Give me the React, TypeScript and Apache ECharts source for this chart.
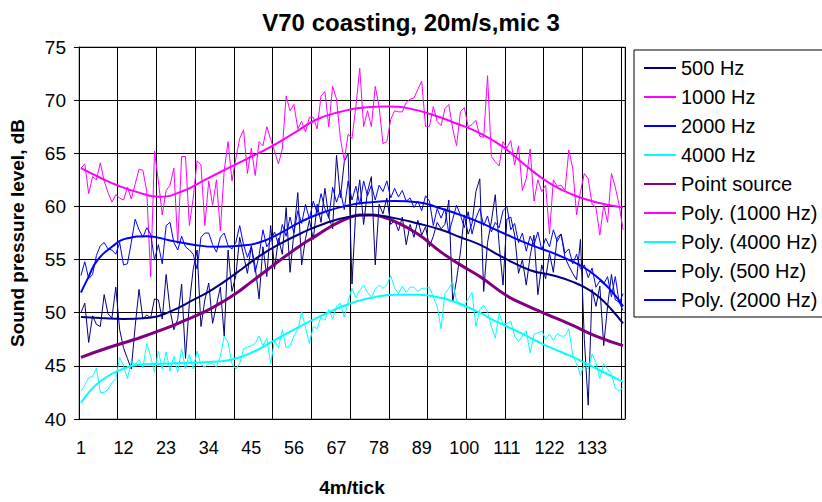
import { useEffect, useRef } from "react";
import * as echarts from "echarts";

// 141 measurement ticks along the pass-by (4 m per tick)
const categories: string[] = Array.from({ length: 141 }, (_, i) => String(i + 1));

const hz500 = [
  50.0, 50.9, 47.2, 49.7, 48.9, 48.7, 51.7, 49.9, 49.5, 52.4,
  48.4, 46.7, 45.7, 44.7, 48.7, 52.2, 49.4, 49.8, 49.5, 51.3,
  51.2, 49.4, 53.6, 50.3, 48.4, 49.4, 52.7, 45.7, 50.9, 54.1,
  55.9, 48.7, 51.2, 52.8, 49.0, 50.7, 52.4, 47.8, 55.9,
  52.0, 53.5, 57.1, 55.4, 53.7, 56.3, 54.3, 51.3, 56.2, 53.4,
  58.2, 54.1, 57.0, 55.5, 59.9, 53.8, 57.5, 61.3, 54.5, 57.0,
  58.7, 56.9, 60.2, 58.5, 61.7, 59.0, 57.9, 64.8, 60.8, 64.2,
  65.0, 52.7, 59.8, 62.5, 58.3, 61.4, 62.8, 54.5, 60.2, 59.3,
  60.8, 58.3, 58.7, 57.7, 59.0, 56.4, 58.3, 57.1, 58.7, 57.3,
  58.1, 56.2, 57.2, 58.5, 57.9, 58.3, 60.6, 51.0, 53.1, 55.7,
  59.2, 57.4, 58.4, 61.4, 62.6, 52.0, 56.6, 58.6, 61.1,
  56.4, 52.6, 58.8, 59.0, 57.3, 53.7, 55.0, 52.6, 55.3, 57.3,
  51.7, 54.5, 53.2, 55.6, 53.8, 57.1, 57.4, 55.2, 54.4, 53.7,
  53.1, 56.9, 47.5, 41.3, 52.2, 50.6, 52.5, 46.9, 50.6, 53.6,
  51.2, 51.0, 50.2,
];

const hz1000 = [
  63.6, 64.0, 61.2, 62.8, 62.5, 64.1, 62.4, 61.3, 60.4, 61.1,
  60.8, 60.6, 61.8, 60.7, 62.1, 63.5, 63.4, 61.4, 53.4, 65.2,
  62.4, 59.2, 61.5, 62.0, 63.6, 56.5, 64.7, 64.7, 58.2, 60.8,
  64.3, 63.9, 58.2, 62.4, 60.1, 62.5, 57.7, 63.4, 66.1,
  62.4, 64.5, 66.4, 67.2, 63.1, 65.5, 62.9, 66.1, 65.7, 67.5,
  66.3, 65.2, 64.0, 65.4, 70.4, 69.0, 69.6, 67.3, 68.0, 67.0,
  68.4, 68.4, 67.3, 70.4, 70.8, 67.5, 71.3, 70.1, 66.4, 64.3,
  66.8, 66.4, 69.4, 73.0, 67.5, 69.0, 67.5, 71.3, 69.4, 65.9,
  66.1, 68.2, 69.0, 68.9, 68.9, 69.8, 70.1, 70.2, 71.0, 71.8,
  67.5, 67.5, 69.4, 68.0, 67.6, 69.2, 69.6, 67.3, 65.7, 68.9,
  69.3, 67.5, 67.7, 68.1, 66.6, 66.5, 72.3, 64.7, 64.2,
  63.8, 66.1, 65.5, 66.2, 63.9, 65.7, 61.5, 62.6, 65.4, 60.5,
  62.5, 61.4, 62.0, 57.4, 62.5, 61.9, 62.0, 61.5, 65.3, 63.6,
  59.2, 61.4, 63.1, 62.6, 60.2, 59.9, 57.3, 60.1, 58.5, 63.1,
  61.8, 60.1, 57.8,
];

const hz2000 = [
  53.5, 54.8, 53.2, 53.6, 55.4, 56.3, 56.6, 56.0, 55.9, 55.5,
  56.6, 54.5, 54.6, 56.6, 58.8, 57.8, 57.1, 58.0, 57.4, 55.0,
  56.4, 54.6, 58.2, 58.5, 56.6, 55.9, 57.2, 56.2, 55.9, 55.5,
  54.1, 57.1, 57.5, 57.5, 56.4, 55.7, 57.1, 57.5, 56.3,
  56.0, 56.6, 58.2, 56.4, 55.2, 56.2, 53.8, 55.4, 57.8, 56.2,
  56.8, 57.6, 56.4, 58.3, 57.2, 59.0, 57.5, 59.6, 58.4, 60.2,
  58.8, 60.5, 59.4, 61.2, 59.8, 58.9, 61.8, 60.4, 61.5, 59.7,
  62.4, 60.6, 61.9, 60.2, 62.4, 61.0, 62.0, 60.6, 62.0, 61.4,
  62.4, 60.8, 61.7, 60.9, 61.5, 60.5, 60.8, 59.9, 60.5, 59.6,
  61.0, 60.5, 58.2, 59.8, 58.9, 59.8, 57.5, 58.8, 60.1, 59.2,
  58.0, 59.5, 57.4, 58.9, 59.8, 58.2, 59.1, 57.6, 58.5,
  58.0, 59.6, 60.0, 57.8, 58.4, 56.6, 57.5, 55.8, 57.2, 56.4,
  57.6, 55.9, 57.0, 56.2, 57.8, 56.7, 57.4, 55.6, 56.0, 54.6,
  55.5, 54.1, 54.5, 53.3, 54.2, 52.4, 53.0, 52.7, 53.4, 51.5,
  53.4, 50.9, 51.8,
];

const hz4000 = [
  42.6, 43.2, 43.9, 44.0, 44.8, 42.5, 42.5, 42.8, 43.4, 43.8,
  45.8, 45.0, 43.8, 45.4, 45.1, 45.6, 44.8, 47.1, 45.9, 44.4,
  46.4, 44.7, 46.3, 44.5, 45.9, 44.4, 46.6, 44.7, 46.1, 44.7,
  46.4, 45.1, 44.9, 45.2, 45.2, 44.9, 45.9, 47.8, 47.2,
  45.2, 44.7, 45.2, 46.6, 46.8, 46.9, 47.1, 47.8, 46.9, 47.6,
  45.2, 47.4, 46.7, 48.4, 46.7, 46.9, 47.8, 48.4, 50.1, 48.6,
  47.1, 48.7, 48.5, 49.6, 49.3, 50.3, 49.4, 50.6, 50.9, 49.6,
  51.1, 52.3, 51.4, 52.1, 52.6, 51.9, 51.5, 52.2, 52.6, 52.3,
  52.6, 53.5, 52.3, 51.8, 52.5, 51.9, 52.4, 52.4, 52.0, 52.3,
  52.3, 52.4, 51.5, 50.6, 48.5, 51.8, 52.3, 52.9, 51.1, 50.9,
  50.7, 51.3, 51.9, 48.7, 50.3, 50.7, 50.1, 48.7, 47.6,
  50.0, 48.9, 49.0, 49.2, 47.8, 47.3, 47.8, 48.3, 46.2, 48.0,
  48.1, 48.3, 47.5, 48.0, 47.4, 48.0, 47.8, 47.8, 48.5, 46.0,
  45.2, 44.1, 45.2, 44.7, 46.1, 45.3, 43.8, 45.2, 44.7, 44.2,
  42.9, 42.6, 43.0,
];

// Smooth curves: tick number and level at that tick
const pointSourceX = [1, 8, 15, 22, 28, 33, 37, 41, 45, 49, 53, 58, 62, 66, 70, 73, 76, 79, 82, 88, 94, 99, 104, 111, 116, 121, 128, 134, 141];
const pointSourceY = [45.8, 46.7, 47.5, 48.4, 49.3, 50.1, 50.9, 51.8, 52.9, 54.0, 55.1, 56.4, 57.3, 58.2, 58.9, 59.2, 59.2, 59.0, 58.6, 57.4, 55.7, 54.5, 53.4, 51.6, 50.7, 49.9, 48.8, 47.8, 46.9];

const poly1000X = [1, 6, 11, 16, 21, 27, 33, 39, 44, 50, 56, 62, 68, 74, 80, 86, 92, 98, 104, 110, 116, 122, 128, 134, 141];
const poly1000Y = [63.6, 62.7, 61.9, 61.3, 60.9, 61.4, 62.5, 63.6, 64.5, 65.6, 66.9, 68.2, 68.9, 69.3, 69.4, 69.2, 68.6, 67.8, 66.9, 65.6, 63.8, 62.2, 61.1, 60.4, 59.9];

const poly4000X = [1, 4, 7, 11, 16, 22, 29, 36, 41, 46, 50, 56, 63, 70, 76, 82, 88, 94, 99, 104, 108, 114, 120, 125, 130, 136, 141];
const poly4000Y = [41.5, 42.9, 43.8, 44.6, 45.1, 45.2, 45.3, 45.4, 45.7, 46.4, 47.2, 48.4, 49.7, 50.8, 51.4, 51.7, 51.7, 51.4, 50.8, 50.0, 49.2, 48.2, 47.1, 46.3, 45.5, 44.4, 43.5];

const poly500X = [1, 6, 12, 18, 24, 30, 35, 41, 47, 52, 58, 64, 70, 76, 82, 88, 94, 99, 104, 110, 117, 123, 128, 132, 135, 138, 141];
const poly500Y = [49.6, 49.5, 49.4, 49.5, 50.1, 51.2, 52.2, 53.7, 55.3, 56.4, 57.5, 58.4, 59.0, 59.2, 58.9, 58.4, 57.8, 57.1, 56.4, 55.2, 54.0, 53.5, 52.9, 52.2, 51.4, 50.3, 49.0];

const poly2000X = [1, 3, 5, 9, 13, 18, 24, 30, 36, 42, 47, 52, 58, 64, 70, 76, 82, 88, 94, 99, 104, 110, 117, 123, 128, 132, 136, 139, 141];
const poly2000Y = [51.9, 53.4, 54.8, 56.2, 57.0, 57.2, 56.8, 56.4, 56.2, 56.3, 56.6, 57.4, 58.6, 59.5, 60.1, 60.4, 60.5, 60.4, 59.8, 59.2, 58.5, 57.5, 56.4, 55.6, 54.8, 54.0, 52.8, 51.6, 50.6];

const legendOrder = [
  "500 Hz",
  "1000 Hz",
  "2000 Hz",
  "4000 Hz",
  "Point source",
  "Poly. (1000 Hz)",
  "Poly. (4000 Hz)",
  "Poly. (500 Hz)",
  "Poly. (2000 Hz)",
];

const FONT = "'Liberation Sans', Arial, sans-serif";

function measured(name: string, data: number[], color: string) {
  return {
    name,
    type: "line",
    data,
    symbol: "none",
    lineStyle: { width: 1, color },
    itemStyle: { color },
    z: 2,
  };
}

function curve(name: string, xs: number[], ys: number[], color: string, width: number) {
  return {
    name,
    type: "line",
    data: xs.map((x, i) => [x - 1, ys[i]]),
    smooth: 0.5,
    symbol: "none",
    lineStyle: { width, color },
    itemStyle: { color },
    z: 3,
  };
}

export default function App() {
  const ref = useRef<HTMLDivElement>(null);

  useEffect(() => {
    document.body.style.margin = "0";
    const chart = echarts.init(ref.current!, null, { renderer: "svg" });
    chart.setOption({
      animation: false,
      backgroundColor: "#ffffff",
      title: {
        text: "V70 coasting, 20m/s,mic 3",
        left: "center",
        top: 5,
        textStyle: { fontFamily: FONT, fontSize: 24, fontWeight: "bold", color: "#000" },
      },
      legend: {
        orient: "vertical",
        left: 634,
        top: 50,
        data: legendOrder,
        itemWidth: 32,
        itemHeight: 14,
        itemGap: 9,
        padding: [8, 30, 7, 9],
        borderColor: "#000",
        borderWidth: 1,
        itemStyle: { opacity: 0 },
        textStyle: { fontFamily: FONT, fontSize: 20, color: "#000" },
      },
      grid: {
        left: 79,
        right: 197,
        top: 47,
        bottom: 78,
        show: true,
        borderColor: "#808080",
        borderWidth: 1,
      },
      xAxis: {
        type: "category",
        data: categories,
        boundaryGap: true,
        name: "4m/tick",
        nameLocation: "middle",
        nameGap: 59,
        nameTextStyle: { fontFamily: FONT, fontSize: 19, fontWeight: "bold", color: "#000" },
        axisLine: { lineStyle: { color: "#000" } },
        axisTick: { interval: 9, length: 6, lineStyle: { color: "#000" } },
        axisLabel: { interval: 10, margin: 20, fontFamily: FONT, fontSize: 18, color: "#000" },
        splitLine: { show: true, interval: 9, lineStyle: { color: "#000" } },
      },
      yAxis: {
        type: "value",
        min: 40,
        max: 75,
        interval: 5,
        name: "Sound pressure level, dB",
        nameLocation: "middle",
        nameGap: 52,
        nameTextStyle: { fontFamily: FONT, fontSize: 19, fontWeight: "bold", color: "#000" },
        axisLine: { show: true, lineStyle: { color: "#000" } },
        axisTick: { show: true, length: 5, lineStyle: { color: "#000" } },
        axisLabel: { margin: 13, fontFamily: FONT, fontSize: 19, color: "#000" },
        splitLine: { show: true, lineStyle: { color: "#000" } },
      },
      series: [
        measured("500 Hz", hz500, "#000080"),
        measured("1000 Hz", hz1000, "#ff00ff"),
        measured("2000 Hz", hz2000, "#0000ff"),
        measured("4000 Hz", hz4000, "#00ffff"),
        curve("Point source", pointSourceX, pointSourceY, "#800080", 3),
        curve("Poly. (1000 Hz)", poly1000X, poly1000Y, "#ff00ff", 2),
        curve("Poly. (4000 Hz)", poly4000X, poly4000Y, "#00ffff", 2),
        curve("Poly. (500 Hz)", poly500X, poly500Y, "#000080", 2),
        curve("Poly. (2000 Hz)", poly2000X, poly2000Y, "#0000ff", 2),
      ],
    });
    return () => chart.dispose();
  }, []);

  return <div ref={ref} style={{ width: 822, height: 502 }} />;
}
